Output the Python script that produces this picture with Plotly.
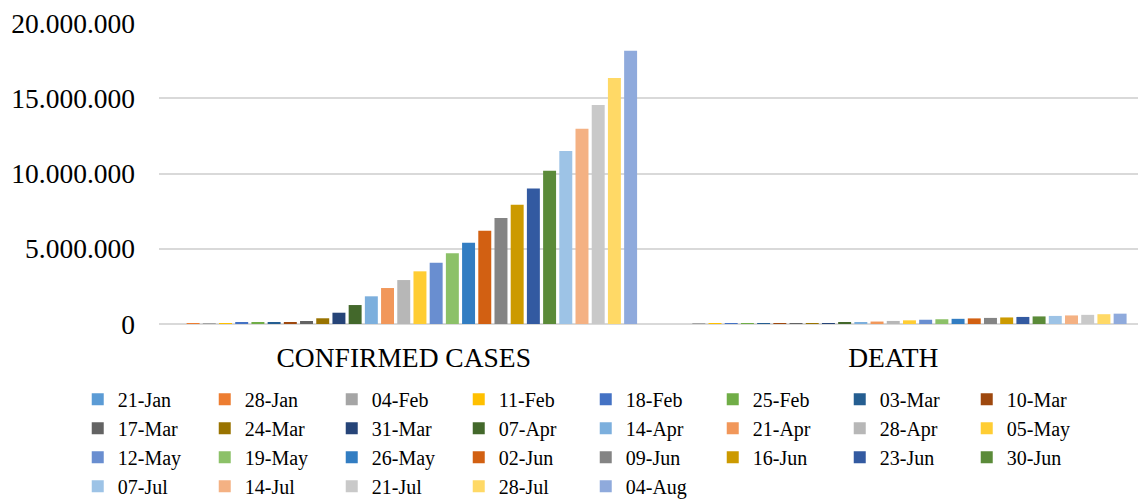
import plotly.graph_objects as go

categories = ["CONFIRMED CASES", "DEATH"]
weeks = ["21-Jan", "28-Jan", "04-Feb", "11-Feb", "18-Feb", "25-Feb", "03-Mar", "10-Mar",
         "17-Mar", "24-Mar", "31-Mar", "07-Apr", "14-Apr", "21-Apr", "28-Apr", "05-May",
         "12-May", "19-May", "26-May", "02-Jun", "09-Jun", "16-Jun", "23-Jun", "30-Jun",
         "07-Jul", "14-Jul", "21-Jul", "28-Jul", "04-Aug"]
confirmed = [300, 6000, 24000, 45000, 75000, 80000, 90000, 118000, 200000, 380000,
             750000, 1260000, 1840000, 2390000, 2920000, 3500000, 4070000, 4700000,
             5400000, 6200000, 7040000, 7930000, 9000000, 10190000, 11500000,
             12980000, 14550000, 16350000, 18160000]
deaths = [6, 130, 500, 1100, 2000, 2700, 3100, 4300, 8000, 17000, 37000, 70000,
          115000, 163000, 203000, 243000, 283000, 316000, 344000, 372000, 404000,
          435000, 470000, 504000, 536000, 570000, 608000, 651000, 687000]
colors = ["#5B9BD5", "#ED7D31", "#A5A5A5", "#FFC000", "#4472C4", "#70AD47",
          "#255E91", "#9E480E", "#636363", "#997300", "#264478", "#43682B",
          "#7CAFDD", "#F1975A", "#B7B7B7", "#FFCD33", "#698ED0", "#8CC168",
          "#327DC2", "#D26012", "#848484", "#CC9A00", "#335AA1", "#5B8B39",
          "#9DC3E6", "#F4B183", "#C9C9C9", "#FFD966", "#8FAADC"]
y_ticks = [0, 5000000, 10000000, 15000000, 20000000]

FONT = "Liberation Serif"

fig = go.Figure()
for i, w in enumerate(weeks):
    fig.add_trace(go.Bar(
        name=w, x=categories, y=[confirmed[i], deaths[i]],
        marker=dict(color=colors[i], line=dict(width=0)),
    ))

fig.update_layout(
    width=1140, height=502,
    barmode="group", bargap=0.04, bargroupgap=0.2,
    separators=",.",
    paper_bgcolor="white", plot_bgcolor="white",
    font=dict(family=FONT, size=27, color="black"),
    margin=dict(l=159, r=2, t=23, b=178, autoexpand=False),
    legend=dict(
        orientation="h", x=-0.083, xanchor="left", y=-0.185, yanchor="top",
        font=dict(family=FONT, size=20, color="black"),
        entrywidth=82, itemwidth=30, traceorder="normal",
        bgcolor="rgba(0,0,0,0)",
    ),
    xaxis=dict(
        showgrid=False, showline=False, ticks="",
        tickfont=dict(family=FONT, size=27.5, color="black"),
        ticklabelstandoff=14,
    ),
    yaxis=dict(
        range=[0, 20000000], tickvals=y_ticks, tickformat=",d",
        showgrid=True, gridcolor="#D9D9D9", gridwidth=1.5,
        zeroline=True, zerolinecolor="#D9D9D9", zerolinewidth=1.5,
        showline=False, ticks="",
        tickfont=dict(family=FONT, size=27.5, color="black"),
        ticklabelstandoff=23,
    ),
)

fig.write_html("out.html", config={"displayModeBar": False},
               post_script="document.body.style.margin='0';")
